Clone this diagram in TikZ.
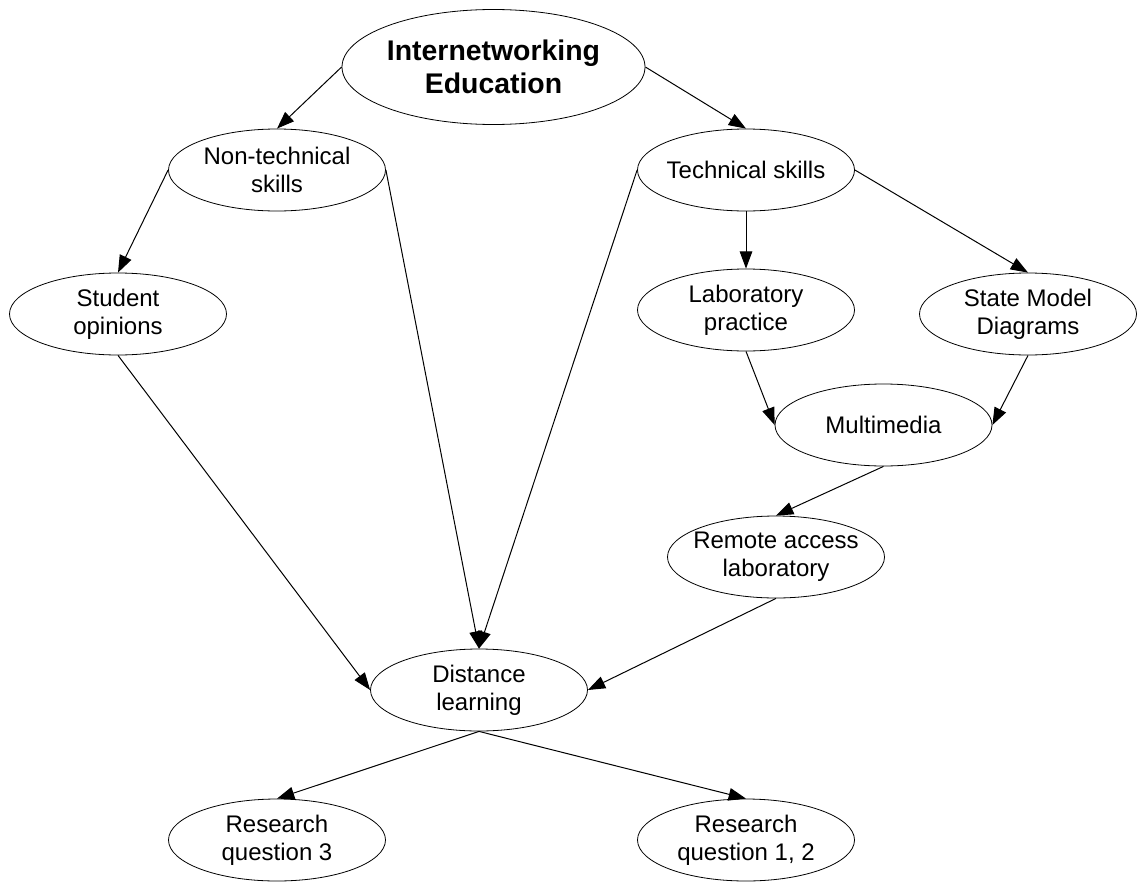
\documentclass[tikz,border=0pt]{standalone}
\usepackage{fontspec}
\setmainfont{Liberation Sans}
\usetikzlibrary{shapes.geometric,arrows.meta}
\begin{document}
\begin{tikzpicture}[x=0.75pt,y=-0.75pt,
  ell/.style={ellipse,draw,line width=0.6pt,inner sep=0pt,minimum width=162.75pt,minimum height=61.5pt},
  bigell/.style={ellipse,draw,line width=0.6pt,inner sep=0pt,minimum width=227.25pt,minimum height=86.25pt},
  txt/.style={align=center,inner sep=0pt,font=\fontsize{18}{21}\selectfont},
  bigtxt/.style={align=center,inner sep=0pt,font=\fontsize{21.3}{25}\selectfont\bfseries},
  conn/.style={line width=0.75pt,-{Triangle[length=13pt,width=9.5pt]}}]
\useasboundingbox (0,0) rectangle (1141,881);
\node[bigell] (ie) at (493.5,67) {};
\node[ell] (nt) at (277,170) {};
\node[ell] (ts) at (746,170) {};
\node[ell] (so) at (118,314) {};
\node[ell] (lp) at (746,310) {};
\node[ell] (sm) at (1028,314) {};
\node[ell] (mm) at (883.5,425) {};
\node[ell] (ra) at (776,557) {};
\node[ell] (dl) at (479,690) {};
\node[ell] (rq3) at (277,840) {};
\node[ell] (rq12) at (746,840) {};
\node[bigtxt] at (ie) {Internetworking\\Education};
\node[txt] at (nt) {Non-technical\\skills};
\node[txt] at (ts) {Technical skills};
\node[txt] at (so) {Student\\opinions};
\node[txt] at (lp) {Laboratory\\practice};
\node[txt] at (sm) {State Model\\Diagrams};
\node[txt] at (mm) {Multimedia};
\node[txt] at (ra) {Remote access\\laboratory};
\node[txt] at (dl) {Distance\\learning};
\node[txt] at (rq3) {Research\\question 3};
\node[txt] at (rq12) {Research\\question 1, 2};
\draw[conn] (ie.west) -- (nt.north);
\draw[conn] (ie.east) -- (ts.north);
\draw[conn] (nt.west) -- (so.north);
\draw[conn] (nt.east) -- (dl.north);
\draw[conn] (ts.west) -- (dl.north);
\draw[conn] (ts.south) -- (lp.north);
\draw[conn] (ts.east) -- (sm.north);
\draw[conn] (so.south) -- (dl.west);
\draw[conn] (lp.south) -- (mm.west);
\draw[conn] (sm.south) -- (mm.east);
\draw[conn] (mm.south) -- (ra.north);
\draw[conn] (ra.south) -- (dl.east);
\draw[conn] (dl.south) -- (rq3.north);
\draw[conn] (dl.south) -- (rq12.north);
\end{tikzpicture}
\end{document}
